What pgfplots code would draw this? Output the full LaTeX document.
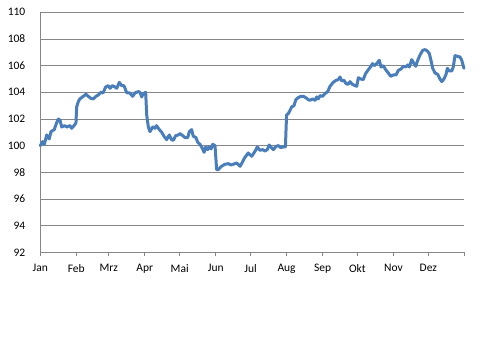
\documentclass[border=0pt]{standalone}
\usepackage{pgfplots}
\pgfplotsset{compat=1.18}
\usepackage{fontspec}
\setmainfont{Carlito}
\definecolor{linec}{RGB}{74,126,187}
\definecolor{gridc}{RGB}{134,134,134}
\begin{document}
\fontsize{11.5bp}{13bp}\selectfont
\begin{tikzpicture}
\begin{axis}[
  name=ax,
  scale only axis,
  width=424bp, height=240bp,
  xmin=0, xmax=365, ymin=92, ymax=110,
  axis x line*=bottom, axis y line*=left,
  axis line style={draw=gridc, line width=0.8bp, -},
  xtick={0,31,59,90,120,151,181,212,243,273,304,334,365},
  xticklabels={Jan,Feb,Mrz,Apr,Mai,Jun,Jul,Aug,Sep,Okt,Nov,Dez,{}},
  ytick={92,94,...,110},
  ymajorgrids,
  grid style={draw=gridc, line width=0.8bp},
  x tick style={draw=gridc, line width=0.8bp},
  y tick style={draw=none},
  tick align=outside,
  major tick length=4bp,
  xticklabel style={yshift=-4bp},
  yticklabel style={xshift=-7bp},
  /pgf/number format/assume math mode=true,
  clip=false,
]
\addplot[color=linec, line width=3bp, line join=round, line cap=round] coordinates {
(0,100.0)(2,100.3)(3.5,100.1)(5.5,100.8)(7.7,100.5)(9.2,101.05)(12,101.2)(14,101.7)
(15.5,102.0)(17,101.9)(18.4,101.4)(21,101.5)(22.7,101.4)(25.6,101.5)(27,101.3)(29,101.5)
(30.7,101.7)(31.3,102.9)(32.7,103.3)(34,103.5)(37,103.7)(39.3,103.85)(41.3,103.7)(43.4,103.55)
(45.6,103.5)(48,103.7)(50,103.8)(52.3,104.0)(54,103.95)(56.3,104.4)(58.5,104.5)(60,104.3)
(62,104.5)(64.3,104.4)(65.8,104.3)(68,104.75)(70,104.5)(72,104.5)(74.4,103.97)(77,103.95)
(79.5,103.7)(81.5,103.95)(84.4,104.05)(85.8,104.0)(87.3,103.65)(88.7,103.9)(90.7,104.0)
(91.6,102.3)(93,101.4)(94.4,101.05)(96.8,101.4)(98.7,101.3)(100,101.5)(102.5,101.2)
(104.5,101.0)(106.5,100.7)(108.8,100.45)(111,100.8)(113,100.45)(114.5,100.4)(116.6,100.75)
(118.8,100.8)(120.3,100.9)(122.6,100.75)(124.6,100.6)(126.9,100.6)(128.3,101.05)(130.3,101.2)
(131.7,100.7)(134,100.6)(135.5,100.25)(137.5,100.1)(139.5,99.8)(141,99.5)(142.4,99.9)
(144,99.7)(145.5,99.9)(147,99.75)(148.4,100.1)(150.4,100.0)(151.8,98.2)(153.2,98.2)
(156,98.45)(159,98.6)(161.8,98.65)(164.2,98.55)(166,98.6)(169,98.7)(172,98.45)
(173.3,98.65)(176,99.1)(179,99.45)(182,99.2)(185,99.6)(186.8,99.9)(189,99.65)(191.5,99.7)
(193.4,99.6)(195.4,99.7)(197,100.05)(199,99.85)(200.6,99.7)(203,99.95)(205,100.0)(207,99.85)
(209,99.9)(211,99.9)(212,102.3)(213.5,102.4)(215,102.65)(216.4,102.9)(218.4,103.0)(220,103.45)
(222,103.6)(224.4,103.7)(226.4,103.7)(228.5,103.6)(230.7,103.45)(232,103.4)(234.5,103.5)
(236.5,103.4)(238,103.65)(239.3,103.5)(240.8,103.75)(243,103.7)(245,103.9)(247.4,104.05)
(249.4,104.45)(252.2,104.75)(254.6,104.9)(256.5,104.95)(258,105.15)(259.5,104.85)(261.4,104.9)
(263.2,104.65)(265,104.6)(266.6,104.8)(268.6,104.6)(271,104.5)(272.4,104.45)(273.8,105.1)
(275.8,105.0)(278,104.95)(280,105.4)(282.4,105.7)(284.7,105.95)(286,106.15)(287.5,106.0)
(289.6,106.15)(291.8,106.4)(293.3,105.9)(295.3,106.0)(297.3,105.7)(299.6,105.45)(301.6,105.2)
(303.9,105.3)(306.2,105.3)(308.2,105.65)(310.5,105.75)(312.5,105.95)(314.6,105.9)(316.3,106.05)
(317.7,105.9)(319.7,106.45)(321.1,106.25)(323.2,105.95)(324.9,106.4)(326.9,106.8)(329.2,107.15)
(331.2,107.2)(333.2,107.1)(334.9,106.9)(336.3,106.4)(337.8,105.8)(339.8,105.45)(342.1,105.35)
(344.1,105.0)(345.6,104.8)(347.5,105.0)(349.3,105.35)(350.4,105.8)(352.1,105.6)(354.2,105.6)
(355.5,105.9)(357,106.75)(359,106.7)(361.3,106.65)(362.8,106.4)(364.7,105.8)
};
\end{axis}
\path (ax.south west) ++(-40.3bp,-107.7bp) rectangle ++(480bp,360bp);
\end{tikzpicture}
\end{document}
